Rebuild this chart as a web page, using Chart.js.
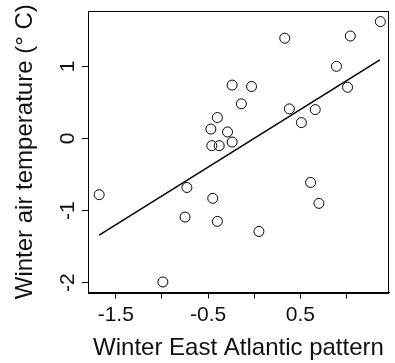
<!DOCTYPE html>
<html>
<head>
<meta charset="utf-8">
<script src="https://cdn.jsdelivr.net/npm/chart.js@4.4.1/dist/chart.umd.min.js"></script>
<style>
html,body{margin:0;padding:0;background:#fff;}
#wrap{width:395px;height:363px;position:relative;}
</style>
</head>
<body>
<div id="wrap"><canvas id="c" width="395" height="363"></canvas></div>
<script>
// Data
const eaPattern = [1.365, 0.33, 1.04, 0.89, 1.01, -0.24, -0.03, -0.14, 0.38, 0.66, 0.51, -0.40, -0.47, -0.29, -0.24, -0.46, -0.38,
                   -1.68, -0.73, -0.45, -0.75, -0.40, 0.05, 0.61, 0.70, -0.99];
const airTemp =   [1.62, 1.39, 1.42, 1.00, 0.71, 0.74, 0.72, 0.48, 0.41, 0.40, 0.22, 0.29, 0.13, 0.09, -0.05, -0.10, -0.10,
                   -0.78, -0.68, -0.83, -1.09, -1.15, -1.29, -0.61, -0.90, -1.99];
const fitX = [-1.68, 1.36];
const fitY = [-1.34, 1.09];
const xTickLabels = [-1.5, -0.5, 0.5];
const xTickValues = [-1.5, -1, -0.5, 0, 0.5, 1];
const yTickValues = [-2, -1, 0, 1];
const xTitle = 'Winter East Atlantic pattern';
const yTitle = 'Winter air temperature (° C)';

const FONT = "'Liberation Sans', Arial, Helvetica, sans-serif";

const scatterPts = eaPattern.map((x, i) => ({x: x, y: airTemp[i]}));
const fitPts = fitX.map((x, i) => ({x: x, y: fitY[i]}));

const boxPlugin = {
  id: 'box',
  afterDraw(chart) {
    const ctx = chart.ctx, a = chart.chartArea;
    ctx.save();
    ctx.strokeStyle = '#000';
    ctx.lineWidth = 1;
    ctx.strokeRect(Math.round(a.left) + 0.5, Math.round(a.top) + 0.5,
                   Math.round(a.right - a.left) - 1, Math.round(a.bottom - a.top));
    // rotated y tick labels (as in the reference)
    const ys = chart.scales.y;
    ctx.fillStyle = '#111';
    ctx.font = '21px ' + FONT;
    ctx.textAlign = 'center';
    ctx.textBaseline = 'alphabetic';
    yTickValues.forEach(v => {
      const py = ys.getPixelForValue(v);
      ctx.save();
      ctx.translate(74, py);
      ctx.rotate(-Math.PI / 2);
      ctx.fillText(String(v), 0, 0);
      ctx.restore();
    });
    ctx.restore();
  }
};

new Chart(document.getElementById('c'), {
  type: 'scatter',
  data: {
    datasets: [
      {
        data: scatterPts,
        pointRadius: 5,
        pointHoverRadius: 5,
        pointBorderColor: '#000',
        pointBackgroundColor: 'rgba(0,0,0,0)',
        pointBorderWidth: 1,
        showLine: false
      },
      {
        data: fitPts,
        showLine: true,
        borderColor: '#000',
        borderWidth: 1.5,
        pointRadius: 0,
        fill: false
      }
    ]
  },
  options: {
    responsive: false,
    animation: false,
    devicePixelRatio: 1,
    layout: {padding: {left: 0, right: 4, top: 11, bottom: 0}},
    plugins: {legend: {display: false}, tooltip: {enabled: false}},
    scales: {
      x: {
        type: 'linear',
        min: -1.801,
        max: 1.459,
        afterBuildTicks(s) {
          s.ticks = xTickValues.map(v => ({value: v}));
        },
        afterFit(s) { s.height = 70.5; },
        ticks: {
          autoSkip: false,
          maxRotation: 0,
          minRotation: 0,
          padding: 4,
          color: '#111',
          font: {family: FONT, size: 21},
          callback: (v) => xTickLabels.includes(v) ? String(v) : ''
        },
        grid: {display: true, drawOnChartArea: false, drawTicks: true, tickLength: 6, color: '#000'},
        border: {display: true, color: '#000'},
        title: {display: true, text: xTitle, color: '#111', font: {family: FONT, size: 24}, padding: {top: 0, bottom: 0}}
      },
      y: {
        type: 'linear',
        min: -2.136,
        max: 1.767,
        afterBuildTicks(s) {
          s.ticks = yTickValues.map(v => ({value: v}));
        },
        afterFit(s) { s.width = 88; },
        ticks: {
          display: true,
          padding: 0,
          font: {family: FONT, size: 1},
          callback: () => ''
        },
        grid: {display: true, drawOnChartArea: false, drawTicks: true, tickLength: 6, color: '#000'},
        border: {display: true, color: '#000'},
        title: {display: true, text: yTitle, color: '#111', font: {family: FONT, size: 24}, padding: {top: 11, bottom: 0}}
      }
    }
  },
  plugins: [boxPlugin]
});
</script>
</body>
</html>
